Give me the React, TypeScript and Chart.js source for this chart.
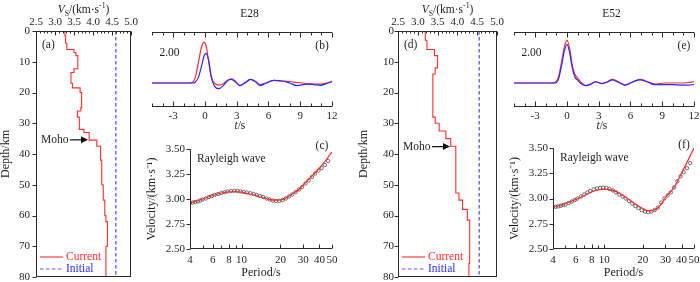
import { useEffect, useRef } from 'react';
import { Chart, registerables } from 'chart.js';

Chart.register(...registerables);

const FONT = 'Liberation Serif';
const INK = '#1e1e1e';
const AXIS = '#2a2a2a';
const RED = '#ff2e2e';
const BLUE = '#2a2aff';
const DASH_BLUE = '#5555ff';

// ---------- (a)/(d) shear-velocity profiles ----------
const maxDepth = 80;
const depthTicks = [0, 10, 20, 30, 40, 50, 60, 70, 80];
const vsTicks = [2.5, 3.0, 3.5, 4.0, 4.5, 5.0];
const vsMinor = [2.6, 2.7, 2.8, 2.9, 3.1, 3.2, 3.3, 3.4, 3.6, 3.7, 3.8, 3.9, 4.1, 4.2, 4.3, 4.4, 4.6, 4.7, 4.8, 4.9];

const depthTopsE28 = [0, 1.5, 4, 6, 7, 8, 12.3, 13.5, 17, 18.5, 20, 25, 26, 28, 32, 33, 35.5, 37.5, 42, 50, 55, 60, 62, 70];
const vsE28 = [3.26, 3.28, 3.31, 3.5, 3.55, 3.6, 3.5, 3.42, 3.46, 3.66, 3.7, 3.68, 3.59, 3.64, 3.76, 3.9, 4.1, 4.2, 4.23, 4.27, 4.31, 4.34, 4.38, 4.34];
const initVsE28 = 4.6;
const mohoE28 = 35.4;

const depthTopsE52 = [0, 3, 6, 8, 12, 14, 28, 30, 32.5, 35, 37.5, 52.7, 55, 58, 61.5, 75.6];
const vsE52 = [3.19, 3.23, 3.42, 3.5, 3.44, 3.38, 3.44, 3.54, 3.71, 3.83, 3.96, 4.04, 4.13, 4.25, 4.31, 4.29];
const initVsE52 = 4.55;
const mohoE52 = 37.6;

// ---------- (b)/(e) receiver functions ----------
const timeTicks = [-3, 0, 3, 6, 9, 12];
const timeMinor = [-5, -4, -2, -1, 1, 2, 4, 5, 7, 8, 10, 11];

const tE28 = [-5, -1.5, -1.2, -0.9, -0.6, -0.3, -0.1, 0.1, 0.35, 0.6, 0.9, 1.3, 1.7, 2.1, 2.5, 2.9, 3.3, 3.8, 4.3, 4.8, 5.2, 5.7, 6.5, 7.3, 8.0, 8.7, 9.6, 10.3, 10.9, 11.5, 12];
const redE28 = [0, 0, 0.01, 0.12, 0.42, 0.72, 0.8, 0.74, 0.42, 0.12, 0.0, -0.04, -0.02, 0.05, 0.08, 0.03, -0.05, 0.0, 0.07, 0.03, -0.03, 0.0, 0.05, 0.04, 0.03, 0.01, -0.01, -0.02, -0.02, 0.0, 0.03];
const blueE28 = [0, 0, 0, 0.02, 0.12, 0.35, 0.52, 0.58, 0.45, 0.12, -0.06, -0.11, -0.06, 0.04, 0.07, 0.02, -0.05, 0.01, 0.07, 0.02, -0.05, -0.01, 0.05, 0.04, 0.0, -0.05, -0.02, -0.03, -0.045, -0.01, 0.03];

const tE52 = [-5, -1.5, -1.15, -0.8, -0.5, -0.25, 0, 0.25, 0.5, 0.75, 1.0, 1.3, 1.8, 2.3, 2.7, 3.3, 3.8, 4.3, 4.9, 5.5, 6.2, 6.9, 7.6, 8.3, 9.2, 10.0, 10.8, 11.5, 12];
const redE52 = [0, 0, 0.01, 0.12, 0.42, 0.7, 0.84, 0.68, 0.35, 0.17, 0.1, 0.02, -0.05, -0.01, 0.03, -0.01, 0.02, 0.07, 0.02, -0.04, 0.02, 0.07, 0.03, -0.02, 0.0, 0.0, 0.0, 0.01, 0.03];
const blueE52 = [0, 0, 0, 0.08, 0.35, 0.62, 0.76, 0.6, 0.3, 0.12, 0.06, -0.01, -0.05, -0.02, 0.02, -0.01, 0.02, 0.06, 0.01, -0.04, 0.02, 0.06, 0.02, -0.03, -0.03, -0.03, -0.04, -0.04, -0.03];

// ---------- (c)/(f) Rayleigh-wave dispersion ----------
const periodTicks = [4, 6, 8, 10, 20, 30, 40, 50];
const periodMinor = [5, 7, 9];
const velTicks = [2.5, 2.75, 3.0, 3.25, 3.5];

const periods = [4, 4.2, 4.4, 4.6, 4.8, 5, 5.3, 5.6, 5.9, 6.2, 6.6, 7, 7.4, 7.8, 8.3, 8.8, 9.3, 9.8, 10.4, 11, 11.7, 12.4, 13.1, 13.9, 14.7, 15.6, 16.5, 17.5, 18.5, 19.6, 20.8, 22, 23.3, 24.7, 26.2, 27.8, 29.4, 31.2, 33, 35, 37.1, 39.3, 41.6, 44.1, 46.7];
const obsE28 = [2.96, 2.965, 2.97, 2.975, 2.985, 2.995, 3.005, 3.02, 3.03, 3.04, 3.05, 3.06, 3.068, 3.075, 3.08, 3.082, 3.08, 3.075, 3.07, 3.065, 3.058, 3.05, 3.04, 3.03, 3.02, 3.005, 2.995, 2.985, 2.98, 2.982, 2.99, 3.005, 3.025, 3.045, 3.07, 3.095, 3.12, 3.155, 3.185, 3.22, 3.255, 3.285, 3.31, 3.34, 3.38];
const obsE52 = [2.915, 2.918, 2.922, 2.928, 2.935, 2.94, 2.955, 2.97, 2.985, 3.0, 3.02, 3.04, 3.06, 3.075, 3.09, 3.1, 3.105, 3.108, 3.105, 3.095, 3.08, 3.06, 3.04, 3.02, 3.0, 2.975, 2.95, 2.925, 2.905, 2.885, 2.87, 2.865, 2.87, 2.885, 2.91, 2.96, 3.0, 3.03, 3.06, 3.11, 3.17, 3.22, 3.26, 3.3, 3.35];

const curvePeriods = [4, 5, 6, 7, 8, 9, 10, 12, 14, 16, 18, 20, 22, 25, 28, 30, 35, 40, 45, 50];
const curveE28 = [2.96, 3.0, 3.035, 3.06, 3.072, 3.075, 3.068, 3.045, 3.02, 3.0, 2.988, 2.99, 3.01, 3.055, 3.1, 3.14, 3.23, 3.31, 3.39, 3.47];
const curveE52 = [2.915, 2.95, 2.99, 3.03, 3.065, 3.085, 3.093, 3.075, 3.03, 2.98, 2.935, 2.9, 2.877, 2.89, 2.95, 3.01, 3.11, 3.25, 3.38, 3.5];

// ---------- helpers ----------
const tickFont = { family: FONT, size: 11, lineHeight: 1 };
const titleFont = { family: FONT, size: 12, lineHeight: 1 };

const fix = (dim: 'width' | 'height', v: number) => (s: any) => {
  s[dim] = v;
  s.paddingLeft = 0; s.paddingRight = 0; s.paddingTop = 0; s.paddingBottom = 0;
};
const useTicks = (vals: number[]) => (s: any) => { s.ticks = vals.map((value) => ({ value })); };
const pts = (xs: number[], ys: number[]) => xs.map((x, i) => ({ x, y: ys[i] }));
const stepPoints = (tops: number[], vs: number[], bottom: number) => {
  const out: { x: number; y: number }[] = [];
  tops.forEach((t, i) => {
    const b = i + 1 < tops.length ? tops[i + 1] : bottom;
    out.push({ x: vs[i], y: t }, { x: vs[i], y: b });
  });
  return out;
};

type Part = { t: string; it?: boolean; sub?: boolean; sup?: boolean };
function drawRich(ctx: CanvasRenderingContext2D, parts: Part[], cx: number, cy: number, size: number, color: string) {
  const f = (p: Part) => `${p.it ? 'italic ' : ''}${p.sub || p.sup ? size * 0.68 : size}px "${FONT}"`;
  let w = 0;
  for (const p of parts) { ctx.font = f(p); w += ctx.measureText(p.t).width; }
  let x = cx - w / 2;
  ctx.fillStyle = color; ctx.textAlign = 'left'; ctx.textBaseline = 'middle';
  for (const p of parts) {
    ctx.font = f(p);
    const dy = p.sub ? size * 0.3 : p.sup ? -size * 0.33 : 0;
    ctx.fillText(p.t, x, cy + dy);
    x += ctx.measureText(p.t).width;
  }
}

type Mark = { axis: string; edge: 'top' | 'bottom' | 'left' | 'right'; values: number[]; len: number };
const framePlugin = (edges: string[], marks: Mark[]) => ({
  id: 'frame',
  afterDatasetsDraw(chart: any) {
    const { ctx, chartArea: a, scales } = chart;
    const L = Math.round(a.left) + 0.5, R = Math.round(a.right) - 0.5;
    const T = Math.round(a.top) + 0.5, B = Math.round(a.bottom) - 0.5;
    ctx.save();
    ctx.strokeStyle = AXIS; ctx.lineWidth = 1;
    ctx.beginPath();
    if (edges.includes('top')) { ctx.moveTo(L - 0.5, T); ctx.lineTo(R + 0.5, T); }
    if (edges.includes('bottom')) { ctx.moveTo(L - 0.5, B); ctx.lineTo(R + 0.5, B); }
    if (edges.includes('left')) { ctx.moveTo(L, T - 0.5); ctx.lineTo(L, B + 0.5); }
    if (edges.includes('right')) { ctx.moveTo(R, T - 0.5); ctx.lineTo(R, B + 0.5); }
    for (const m of marks) {
      const s = scales[m.axis];
      for (const v of m.values) {
        const p = Math.round(s.getPixelForValue(v)) + 0.5;
        if (m.edge === 'top') { ctx.moveTo(p, T); ctx.lineTo(p, T + m.len); }
        if (m.edge === 'bottom') { ctx.moveTo(p, B); ctx.lineTo(p, B - m.len); }
        if (m.edge === 'left') { ctx.moveTo(L, p); ctx.lineTo(L + m.len, p); }
        if (m.edge === 'right') { ctx.moveTo(R, p); ctx.lineTo(R - m.len, p); }
      }
    }
    ctx.stroke();
    ctx.restore();
  },
});

const baseOptions = (padding: any) => ({
  animation: false,
  responsive: false,
  events: [],
  layout: { padding },
  plugins: { legend: { display: false }, tooltip: { enabled: false }, title: { display: false } },
});

// ---------- profile panels ----------
type ProfileSpec = { tops: number[]; vs: number[]; init: number; moho: number; tag: string; yWidth: number; padRight: number; labelPad: number; titlePad: number };
function profileConfig(p: ProfileSpec): any {
  const text = {
    id: 'ptext',
    afterDraw(chart: any) {
      const { ctx, chartArea: a, scales } = chart;
      ctx.save();
      ctx.fillStyle = INK; ctx.textBaseline = 'middle'; ctx.textAlign = 'left';
      ctx.font = `11.5px "${FONT}"`;
      ctx.fillText(p.tag, a.left + 6, a.top + 14);
      const my = scales.y.getPixelForValue(p.moho);
      ctx.fillText('Moho', a.left + 5, my);
      ctx.strokeStyle = '#111'; ctx.fillStyle = '#111'; ctx.lineWidth = 1.2;
      ctx.beginPath(); ctx.moveTo(a.left + 34, my); ctx.lineTo(a.left + 46, my); ctx.stroke();
      ctx.beginPath(); ctx.moveTo(a.left + 52, my); ctx.lineTo(a.left + 45, my - 3.5); ctx.lineTo(a.left + 45, my + 3.5); ctx.closePath(); ctx.fill();
      const l1 = a.bottom - 20, l2 = a.bottom - 8;
      ctx.lineWidth = 1.1;
      ctx.strokeStyle = RED; ctx.beginPath(); ctx.moveTo(a.left + 4, l1); ctx.lineTo(a.left + 27, l1); ctx.stroke();
      ctx.fillStyle = RED; ctx.fillText('Current', a.left + 30, l1);
      ctx.strokeStyle = DASH_BLUE; ctx.setLineDash([3.5, 2.5]);
      ctx.beginPath(); ctx.moveTo(a.left + 4, l2); ctx.lineTo(a.left + 27, l2); ctx.stroke();
      ctx.setLineDash([]);
      ctx.fillStyle = BLUE; ctx.fillText('Initial', a.left + 30, l2);
      drawRich(ctx, [{ t: 'V', it: true }, { t: 'S', sub: true }, { t: '/(km·s' }, { t: '-1', sup: true }, { t: ')' }], (a.left + a.right) / 2, 10, 11.5, INK);
      ctx.restore();
    },
  };
  return {
    type: 'scatter',
    data: {
      datasets: [
        { data: stepPoints(p.tops, p.vs, maxDepth), showLine: true, borderColor: RED, borderWidth: 1.1, pointRadius: 0, tension: 0 },
        { data: [{ x: p.init, y: 0 }, { x: p.init, y: maxDepth }], showLine: true, borderColor: DASH_BLUE, borderDash: [3.5, 2.5], borderWidth: 1.3, pointRadius: 0 },
      ],
    },
    options: {
      ...baseOptions({ top: 0, left: 0, right: p.padRight, bottom: 5 }),
      scales: {
        x: {
          type: 'linear', position: 'top', min: 2.5, max: 5,
          afterFit: fix('height', 31), afterBuildTicks: useTicks(vsTicks),
          ticks: { font: tickFont, color: INK, padding: 3, maxRotation: 0, autoSkip: false, callback: (v: any) => Number(v).toFixed(1) },
          grid: { display: false, drawTicks: false }, border: { display: false },
        },
        y: {
          type: 'linear', position: 'left', reverse: true, min: 0, max: maxDepth,
          afterFit: fix('width', p.yWidth), afterBuildTicks: useTicks(depthTicks),
          ticks: { font: tickFont, color: INK, padding: p.labelPad, autoSkip: false, callback: (v: any) => String(v) },
          grid: { display: false, drawTicks: false }, border: { display: false },
          title: { display: true, text: 'Depth/km', font: titleFont, color: INK, padding: { top: p.titlePad, bottom: 0 } },
        },
      },
    },
    plugins: [
      framePlugin(['top', 'bottom', 'left', 'right'], [
        { axis: 'x', edge: 'top', values: vsTicks, len: 4 },
        { axis: 'x', edge: 'top', values: vsMinor, len: 2 },
        { axis: 'y', edge: 'left', values: depthTicks, len: -4 },
      ]),
      text,
    ],
  };
}

// ---------- receiver function panels ----------
type WaveSpec = { t: number[]; red: number[]; blue: number[]; station: string; tag: string; padLeft: number; padRight: number };
function waveConfig(w: WaveSpec): any {
  const text = {
    id: 'wtext',
    afterDraw(chart: any) {
      const { ctx, chartArea: a, scales } = chart;
      ctx.save();
      ctx.fillStyle = INK; ctx.textBaseline = 'middle'; ctx.textAlign = 'center';
      ctx.font = `11.5px "${FONT}"`;
      ctx.fillText(w.station, a.left + 97.5, 14);
      ctx.fillText(w.tag, a.left + 170, 46);
      ctx.fillText('2.00', a.left + 17.5, 53);
      drawRich(ctx, [{ t: 't', it: true }, { t: '/s' }], scales.x.getPixelForValue(3.3), 126, 11.5, INK);
      ctx.restore();
    },
  };
  return {
    type: 'scatter',
    data: {
      datasets: [
        { data: pts(w.t, w.blue), showLine: true, borderColor: BLUE, borderWidth: 1.2, pointRadius: 0, cubicInterpolationMode: 'monotone' },
        { data: pts(w.t, w.red), showLine: true, borderColor: RED, borderWidth: 1.2, pointRadius: 0, cubicInterpolationMode: 'monotone' },
      ],
    },
    options: {
      ...baseOptions({ top: 32, left: w.padLeft, right: w.padRight, bottom: 0 }),
      scales: {
        x: {
          type: 'linear', position: 'bottom', min: -5, max: 12,
          afterFit: fix('height', 28), afterBuildTicks: useTicks(timeTicks),
          ticks: { font: tickFont, color: INK, padding: 4, maxRotation: 0, autoSkip: false, callback: (v: any) => String(v) },
          grid: { display: false, drawTicks: false }, border: { display: false },
        },
        y: { type: 'linear', display: false, min: -0.47, max: 1 },
      },
    },
    plugins: [
      framePlugin(['top', 'bottom'], [
        { axis: 'x', edge: 'top', values: timeTicks, len: 5 },
        { axis: 'x', edge: 'top', values: timeMinor, len: 3 },
        { axis: 'x', edge: 'bottom', values: timeTicks, len: 5 },
        { axis: 'x', edge: 'bottom', values: timeMinor, len: 3 },
      ]),
      text,
    ],
  };
}

// ---------- dispersion panels ----------
type DispSpec = { obs: number[]; curve: number[]; tag: string; yWidth: number; padTop: number; padRight: number; titlePad: number };
function dispConfig(d: DispSpec): any {
  const text = {
    id: 'dtext',
    afterDraw(chart: any) {
      const { ctx, chartArea: a } = chart;
      ctx.save();
      ctx.fillStyle = INK; ctx.textBaseline = 'middle';
      ctx.font = `11.5px "${FONT}"`;
      ctx.textAlign = 'left';
      ctx.fillText('Rayleigh wave', a.left + 7, a.top + 9.5);
      ctx.textAlign = 'center';
      ctx.fillText(d.tag, a.right - 10, a.top - 3);
      ctx.restore();
    },
  };
  return {
    type: 'scatter',
    data: {
      datasets: [
        { data: pts(curvePeriods, d.curve), showLine: true, borderColor: RED, borderWidth: 1.2, pointRadius: 0, cubicInterpolationMode: 'monotone' },
        { data: pts(periods, d.obs), showLine: false, pointRadius: 1.7, pointBorderWidth: 0.8, pointBorderColor: '#4a4a4a', pointBackgroundColor: 'rgba(255,255,255,0)' },
      ],
    },
    options: {
      ...baseOptions({ top: d.padTop, left: 0, right: d.padRight, bottom: 0 }),
      scales: {
        x: {
          type: 'logarithmic', position: 'bottom', min: 4, max: 50,
          afterFit: fix('height', 33), afterBuildTicks: useTicks(periodTicks),
          ticks: { font: tickFont, color: INK, padding: 5.5, maxRotation: 0, autoSkip: false, callback: (v: any) => String(v) },
          grid: { display: false, drawTicks: false }, border: { display: false },
          title: { display: true, text: 'Period/s', font: titleFont, color: INK, padding: { top: 0, bottom: 3 } },
        },
        y: {
          type: 'linear', position: 'left', min: 2.5, max: 3.5,
          afterFit: fix('width', d.yWidth), afterBuildTicks: useTicks(velTicks),
          ticks: { font: tickFont, color: INK, padding: 5, autoSkip: false, callback: (v: any) => Number(v).toFixed(2) },
          grid: { display: false, drawTicks: false }, border: { display: false },
          title: { display: true, text: 'Velocity/(km·s⁻¹)', font: titleFont, color: INK, padding: { top: d.titlePad, bottom: 0 } },
        },
      },
    },
    plugins: [
      framePlugin(['left', 'bottom'], [
        { axis: 'y', edge: 'left', values: velTicks, len: -4 },
        { axis: 'x', edge: 'bottom', values: periodTicks, len: 4 },
        { axis: 'x', edge: 'bottom', values: periodMinor, len: 3 },
      ]),
      text,
    ],
  };
}

function ChartCanvas({ x, y, w, h, make }: { x: number; y: number; w: number; h: number; make: () => any }) {
  const ref = useRef<HTMLCanvasElement>(null);
  useEffect(() => {
    const chart = new Chart(ref.current as HTMLCanvasElement, make());
    return () => chart.destroy();
  }, []);
  return <canvas ref={ref} width={w} height={h} style={{ position: 'absolute', left: x, top: y, width: w, height: h }} />;
}

if (typeof document !== 'undefined') document.body.style.margin = '0';

export default function App() {
  useEffect(() => { document.body.style.margin = '0'; document.body.style.background = '#fff'; }, []);
  return (
    <div style={{ position: 'relative', width: 700, height: 282, overflow: 'hidden', background: '#fff' }}>
      <ChartCanvas x={0} y={0} w={140} h={282} make={() => profileConfig({ tops: depthTopsE28, vs: vsE28, init: initVsE28, moho: mohoE28, tag: '(a)', yWidth: 36, padRight: 9, labelPad: 6, titlePad: 0 })} />
      <ChartCanvas x={140} y={0} w={210} h={135} make={() => waveConfig({ t: tE28, red: redE28, blue: blueE28, station: 'E28', tag: '(b)', padLeft: 12, padRight: 18 })} />
      <ChartCanvas x={140} y={135} w={210} h={147} make={() => dispConfig({ obs: obsE28, curve: curveE28, tag: '(c)', yWidth: 50, padTop: 14, padRight: 18, titlePad: 6 })} />
      <ChartCanvas x={350} y={0} w={160} h={282} make={() => profileConfig({ tops: depthTopsE52, vs: vsE52, init: initVsE52, moho: mohoE52, tag: '(d)', yWidth: 48, padRight: 13, labelPad: 4, titlePad: 8 })} />
      <ChartCanvas x={500} y={0} w={200} h={135} make={() => waveConfig({ t: tE52, red: redE52, blue: blueE52, station: 'E52', tag: '(e)', padLeft: 14, padRight: 6 })} />
      <ChartCanvas x={500} y={135} w={200} h={147} make={() => dispConfig({ obs: obsE52, curve: curveE52, tag: '(f)', yWidth: 53, padTop: 13, padRight: 6, titlePad: 9 })} />
    </div>
  );
}
